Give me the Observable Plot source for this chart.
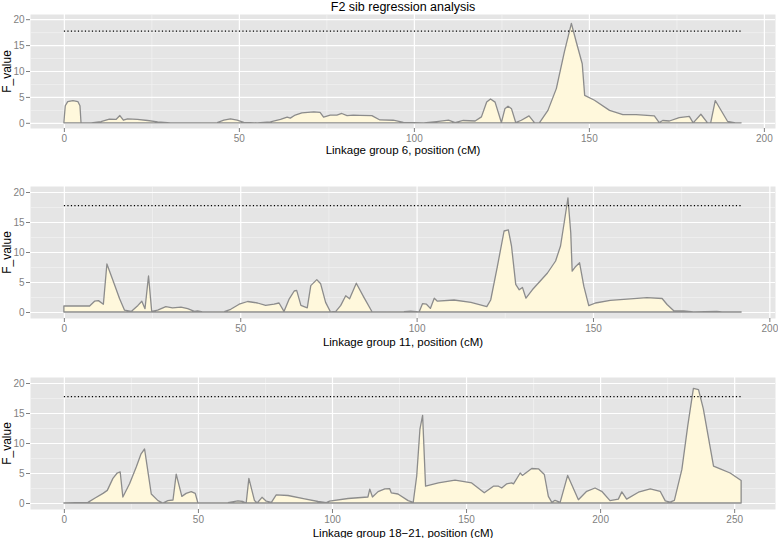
<!DOCTYPE html>
<html><head><meta charset="utf-8">
<script src="https://cdn.jsdelivr.net/npm/d3@7"></script>
<script src="https://cdn.jsdelivr.net/npm/@observablehq/plot@0.6"></script>
<style>
body{margin:0;background:#fff;font-family:"Liberation Sans",Arial,sans-serif;}
#wrap{position:relative;width:778px;height:538px;overflow:hidden;}
.panel{position:absolute;left:0;}
</style></head><body><div id="wrap"></div>
<script>
const title = "F2 sib regression analysis";
const yLabel = "F_value";
const thresholdF = 17.8;
const yTicks = [0, 5, 10, 15, 20];
const yMinor = [2.5, 7.5, 12.5, 17.5];
const xTicks200 = [0, 50, 100, 150, 200];
const xMinor200 = [25, 75, 125, 175];
const xTicks250 = [0, 50, 100, 150, 200, 250];
const xMinor250 = [25, 75, 125, 175, 225];
const xLabels = ["Linkage group 6, position (cM)", "Linkage group 11, position (cM)", "Linkage group 18\u221221, position (cM)"];

// [position (cM), F value]
const lg6 = [[0,0],[0.4,3.3],[1.1,4.1],[2.6,4.3],[4.0,4.1],[4.6,3.3],[4.9,0],[7.8,0],[10.6,0.25],[13,0.7],[14.9,0.65],[16,1.4],[17,0.5],[18.2,0.75],[21,0.65],[23.9,0.45],[26.8,0.2],[30.5,0],[38,0],[43.8,0.05],[45.7,0.5],[47.6,0.75],[49.5,0.5],[51.4,0.1],[55.2,0],[59,0.2],[61.9,0.65],[63.8,1.1],[64.7,0.9],[66.1,1.5],[68,1.9],[71.4,2.1],[73.2,2.0],[74.2,1.1],[76.1,1.5],[78,1.5],[79.4,1.8],[80.9,1.4],[82.7,1.5],[84.6,1.45],[88,1.4],[90.3,0.55],[94.1,0.5],[97,0.1],[102.8,0],[106.5,0.25],[109.9,0.5],[111.8,0.05],[114.1,0.45],[117.5,0.35],[119.3,1.15],[120.8,4.0],[121.9,4.6],[123.2,4.0],[125,0.05],[126,2.7],[126.9,3.2],[127.9,2.7],[129.1,0.05],[130.7,0.5],[132.9,1.35],[134.5,0],[135.9,0.05],[138.3,2.4],[140.7,6.6],[143,13.7],[145,19.2],[146.4,15.6],[148.1,11.4],[148.8,5.3],[151.6,4.35],[155.9,2.4],[159.7,1.6],[163.5,1.6],[168.7,1.35],[170.1,0.05],[171.1,0.45],[173,0.35],[175.8,1.0],[178.7,1.25],[179.8,0],[182,1.65],[183.9,0],[184.8,0],[186.1,4.3],[189.6,0.3],[191.9,0],[193.5,0]];

const lg11 = [[0,1.0],[7.3,1.0],[8.7,1.8],[9.8,1.9],[11.2,1.3],[12.2,8.0],[13.9,5.3],[15.8,2.2],[17.2,0.3],[19.1,0.1],[21,1.1],[22.1,1.8],[23,0.55],[24,6.0],[24.9,0.1],[26.6,0.3],[28.9,0.9],[30.8,0.7],[33.2,0.8],[35.1,0.55],[37,0.1],[37.9,0.2],[39.3,0],[45.5,0.05],[47.3,0.45],[49.7,1.3],[52.1,1.75],[54.9,1.5],[57.2,1.1],[59.6,1.3],[61,1.5],[62.4,0.1],[63.9,2.2],[65.3,3.5],[66,3.6],[67.2,1.1],[69,0.7],[70,4.4],[71.7,5.4],[72.8,4.7],[74.2,1.6],[75.6,0],[77.1,0.1],[78.5,1.1],[79.9,2.7],[81,2.2],[82.9,4.8],[85.1,2.4],[87.4,0],[96.4,0.05],[98.3,0.15],[100.7,0],[101.7,1.4],[102.8,1.3],[103.9,0.6],[105,2.3],[105.9,1.8],[110.6,2.0],[115.4,1.6],[119.9,0.9],[121,2.0],[122.9,7.6],[124.8,13.5],[126,13.7],[126.9,11],[128.1,4.6],[129.1,3.7],[130,4.1],[131,2.3],[132.8,3.7],[137.1,6.5],[139.4,8.5],[140.8,11],[142,15.5],[142.9,19.0],[143.7,13.2],[144.1,6.8],[145.1,7.6],[146.2,8.2],[147.4,4.3],[148.8,1.05],[150.7,1.5],[154.9,1.95],[160.6,2.2],[165.3,2.4],[169.6,2.25],[171,1.25],[172.9,0.2],[175.7,0.2],[178.5,0],[185.1,0.1],[186.6,0],[192,0]];

const lg1821 = [[0,0],[9,0.1],[11.5,0.8],[14.6,1.6],[16.2,2.1],[18.3,4.1],[19.9,5.0],[21,5.2],[22,1.0],[24.5,3.2],[27,6.0],[28.8,8.2],[30.1,9.0],[31.3,5.4],[32.6,1.5],[35.1,0.4],[36.9,0],[38.8,0.4],[40.7,0.5],[41.9,4.8],[44,1.1],[45.6,1.6],[47.5,1.9],[49,1.6],[50,0],[61.2,0.05],[64.9,0.35],[66.8,0.25],[68,0],[69,4.1],[71.1,0.4],[72.1,0],[73.9,0.95],[75.5,0.3],[77.4,0.1],[79.2,1.35],[83.6,1.25],[89.8,0.7],[94.8,0.25],[97.9,0.05],[99.1,0.3],[106,0.75],[113.4,1.0],[114.1,2.3],[115.1,1.0],[117.2,1.9],[119.7,2.35],[121.5,2.4],[122.1,1.7],[124.6,1.5],[128.4,0.4],[130.3,0.1],[131.6,4.5],[132.8,12.3],[133.8,14.6],[134.9,2.8],[139.7,3.35],[145.9,3.8],[152.1,3.35],[156.8,1.7],[160.2,2.8],[162.1,2.8],[163.3,2.5],[165.2,3.2],[167,3.35],[167.7,3.2],[170.2,5.0],[171,4.6],[174.5,5.75],[177,5.7],[179.2,4.75],[180.7,1.1],[182,0.1],[183.2,0.45],[185.1,0.1],[187.9,4.6],[191.9,0.55],[195,1.95],[198.1,2.5],[200.6,1.95],[203.7,0.4],[206.8,0.65],[208.1,1.85],[209.9,0.65],[214.3,1.8],[218.7,2.35],[222.4,1.95],[224.3,0.35],[226.1,0.15],[227.7,0.45],[230.5,5.6],[232.7,12.9],[234.8,19.1],[236.7,18.9],[238.5,15.7],[242.3,6.15],[244.8,5.7],[248.5,5.0],[252.6,3.75]];

const grey = "#7f7f7f";

function panel(data, o) {
  const rows = data.map(([pos, F]) => ({pos, F}));
  const lo = d3.min(rows, d => d.pos), hi = d3.max(rows, d => d.pos);
  const pad = (hi - lo) * 0.05;
  const marks = [
    Plot.frame({fill: "#e5e5e5", stroke: "none"}),
    Plot.ruleY(yMinor, {stroke: "#f2f2f2", strokeWidth: 0.7}),
    Plot.ruleX(o.xMinor, {stroke: "#f2f2f2", strokeWidth: 0.7}),
    Plot.ruleY(yTicks, {stroke: "#ffffff", strokeWidth: 1.2}),
    Plot.ruleX(o.xTicks, {stroke: "#ffffff", strokeWidth: 1.2}),
    Plot.areaY(rows, {x: "pos", y: "F", fill: "#fff8dc", stroke: "#8c8c8c", strokeWidth: 1.3}),
    Plot.ruleY([{F: thresholdF, a: lo, b: hi}], {y: "F", x1: "a", x2: "b", stroke: "#000", strokeWidth: 1.2, strokeDasharray: "1.2,2.3"}),
    Plot.axisX({ticks: o.xTicks, tickSize: 4, tickPadding: 2, color: grey, fontSize: 10, label: null}),
    Plot.axisY({ticks: yTicks, tickSize: 4, tickPadding: 2, color: grey, fontSize: 10, label: null}),
    Plot.text([o.xLabel], {frameAnchor: "bottom", lineAnchor: "middle", textAnchor: "middle", dy: o.labelDy, fontSize: 11.5, fill: "#000"}),
    Plot.text([yLabel], {frameAnchor: "left", lineAnchor: "middle", textAnchor: "middle", dx: -23, rotate: -90, fontSize: 12, fill: "#000"})
  ];
  if (o.title) marks.push(Plot.text([o.title], {frameAnchor: "top", lineAnchor: "middle", textAnchor: "middle", dy: -8, fontSize: 12.5, fill: "#000"}));
  const svg = Plot.plot({
    width: 778, height: o.height,
    marginLeft: 30, marginRight: 3, marginTop: o.mt, marginBottom: o.mb,
    style: {fontFamily: "'Liberation Sans', Arial, sans-serif", fontSize: "10px", background: "transparent"},
    x: {domain: [lo - pad, hi + pad]},
    y: {domain: [-1, 21]},
    marks
  });
  const div = document.createElement("div");
  div.className = "panel";
  div.style.top = o.top + "px";
  div.appendChild(svg);
  document.getElementById("wrap").appendChild(div);
}

panel(lg6, {top: 0, height: 165, mt: 14, mb: 37, xTicks: xTicks200, xMinor: xMinor200, xLabel: xLabels[0], labelDy: 22, title});
panel(lg11, {top: 170, height: 180, mt: 16, mb: 32, xTicks: xTicks200, xMinor: xMinor200, xLabel: xLabels[1], labelDy: 23.5});
panel(lg1821, {top: 358, height: 180, mt: 19, mb: 29, xTicks: xTicks250, xMinor: xMinor250, xLabel: xLabels[2], labelDy: 23.5});
</script></body></html>
